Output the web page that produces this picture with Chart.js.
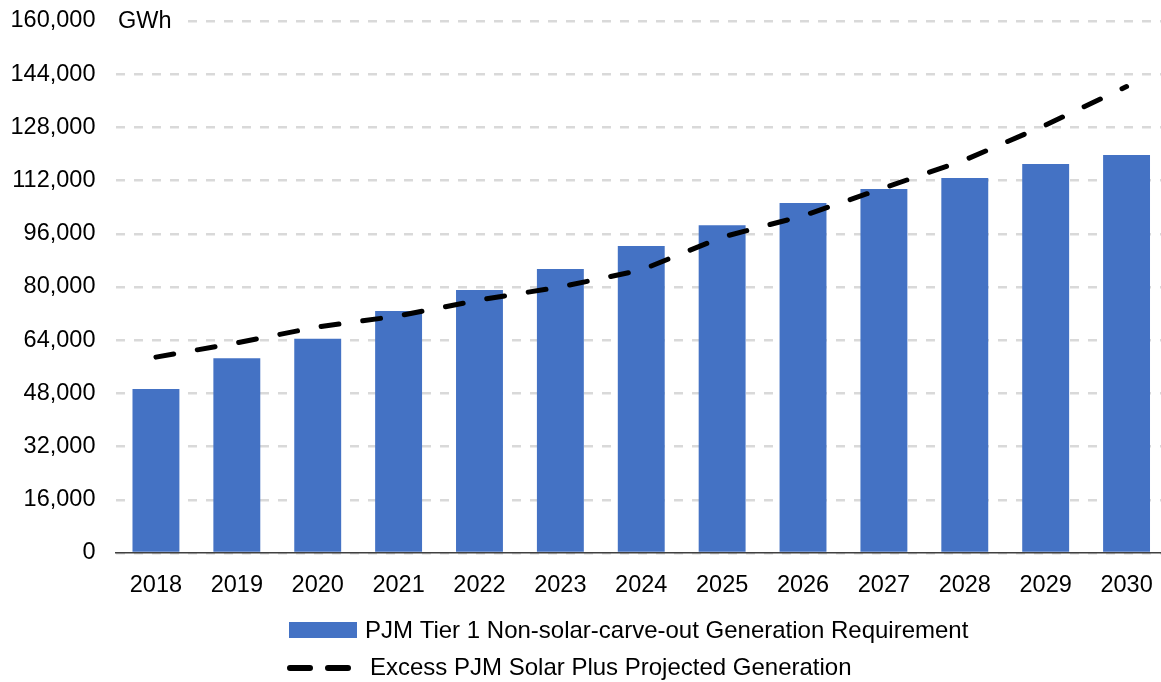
<!DOCTYPE html>
<html>
<head>
<meta charset="utf-8">
<script src="https://cdn.jsdelivr.net/npm/chart.js@4/dist/chart.umd.min.js"></script>
<style>
  html, body { margin: 0; padding: 0; background: #fff; overflow: hidden; }
  #wrap { width: 1167px; height: 682px; }
</style>
</head>
<body>
<div id="wrap"><canvas id="chart" width="1167" height="682"></canvas></div>
<script>
// Chart data
const years = ['2018', '2019', '2020', '2021', '2022', '2023', '2024', '2025', '2026', '2027', '2028', '2029', '2030'];
const requirement = [49300, 58600, 64400, 72800, 79100, 85400, 92300, 98600, 105300, 109500, 112800, 117000, 119700];
const excessSolar = [58900, 63200, 68000, 71300, 76100, 80000, 85100, 95000, 101400, 109800, 118200, 128700, 140300];
const yTicks = [0, 16000, 32000, 48000, 64000, 80000, 96000, 112000, 128000, 144000, 160000];

const FONT = 'Liberation Sans, Arial, sans-serif';
const BAR_COLOR = '#4472C4';

// Draw "GWh" unit label next to the top tick
const unitLabel = {
    id: 'unitLabel',
    afterDraw(chart) {
        const ctx = chart.ctx;
        const y = chart.scales.y.getPixelForValue(160000);
        ctx.save();
        ctx.fillStyle = '#fff';
        ctx.fillRect(chart.chartArea.left, y - 4, 64, 8);
        ctx.fillStyle = '#000';
        ctx.font = '23.5px ' + FONT;
        ctx.textAlign = 'left';
        ctx.textBaseline = 'middle';
        ctx.fillText('GWh', 118, y + 1);
        ctx.restore();
    }
};

// Legend rows, left aligned like the original
const customLegend = {
    id: 'customLegend',
    afterDraw(chart) {
        const ctx = chart.ctx;
        const ds = chart.data.datasets;
        ctx.save();
        ctx.font = '24px ' + FONT;
        ctx.textBaseline = 'middle';
        ctx.fillStyle = '#000';

        // bar item
        ctx.fillStyle = ds[0].backgroundColor;
        ctx.fillRect(289, 622, 68, 16);
        ctx.fillStyle = '#000';
        ctx.fillText(ds[0].label, 365, 631);

        // line item
        ctx.strokeStyle = ds[1].borderColor;
        ctx.lineWidth = 6;
        ctx.lineCap = 'round';
        ctx.setLineDash([20, 18]);
        ctx.beginPath();
        ctx.moveTo(290, 668);
        ctx.lineTo(350, 668);
        ctx.stroke();
        ctx.setLineDash([]);
        ctx.fillText(ds[1].label, 370, 668);
        ctx.restore();
    }
};

new Chart(document.getElementById('chart'), {
    type: 'bar',
    data: {
        labels: years,
        datasets: [
            {
                type: 'bar',
                label: 'PJM Tier 1 Non-solar-carve-out Generation Requirement',
                data: requirement,
                backgroundColor: BAR_COLOR,
                barPercentage: 0.58,
                categoryPercentage: 1.0,
                order: 1
            },
            {
                type: 'line',
                label: 'Excess PJM Solar Plus Projected Generation',
                data: excessSolar,
                borderColor: '#000',
                borderWidth: 5,
                borderDash: [18, 24],
                borderCapStyle: 'round',
                pointRadius: 0,
                tension: 0,
                fill: false,
                order: 0
            }
        ]
    },
    options: {
        responsive: false,
        animation: false,
        layout: { padding: { top: 21, right: 0, bottom: 0, left: 0 } },
        plugins: {
            legend: { display: false },
            tooltip: { enabled: false }
        },
        scales: {
            x: {
                grid: { display: false },
                border: { display: true, color: '#404040', width: 1.5 },
                ticks: { color: '#000', font: { family: FONT, size: 23.5 }, padding: 10, maxRotation: 0 },
                afterFit(scale) {
                    scale.height = 129;
                    scale.paddingLeft = 0;
                    scale.paddingRight = 0;
                }
            },
            y: {
                min: 0,
                max: 160000,
                afterBuildTicks(scale) { scale.ticks = yTicks.map(v => ({ value: v })); },
                grid: {
                    color: '#d9d9d9',
                    lineWidth: 2.5,
                    drawTicks: false
                },
                border: { display: false, dash: [9, 9] },
                ticks: {
                    color: '#000',
                    font: { family: FONT, size: 23.5 },
                    padding: 20,
                    callback: v => v.toLocaleString('en-US')
                },
                afterFit(scale) {
                    scale.width = 115.5;
                    scale.paddingTop = 0;
                    scale.paddingBottom = 0;
                }
            }
        }
    },
    plugins: [unitLabel, customLegend]
});
</script>
</body>
</html>
